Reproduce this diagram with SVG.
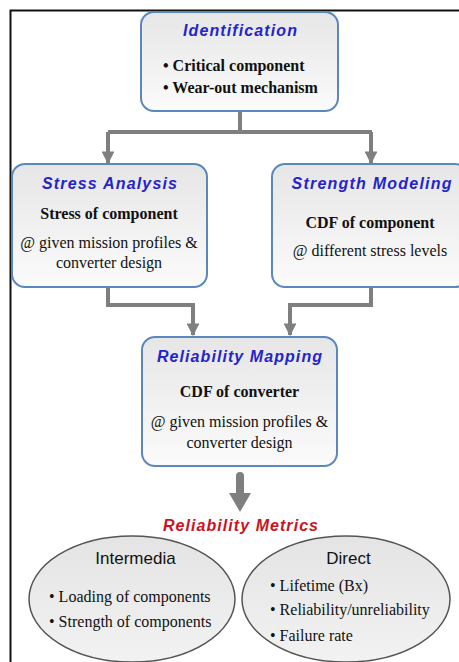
<svg xmlns="http://www.w3.org/2000/svg" width="459" height="662" viewBox="0 0 459 662">
<defs>
<linearGradient id="boxg" x1="0" y1="0" x2="0" y2="1">
<stop offset="0" stop-color="#e6e6e6"/>
<stop offset="1" stop-color="#fbfbfb"/>
</linearGradient>
<linearGradient id="ellg" x1="0" y1="0" x2="0" y2="1">
<stop offset="0" stop-color="#e4e4e4"/>
<stop offset="1" stop-color="#f2f2f2"/>
</linearGradient>
<marker id="ah" viewBox="0 0 10 10" refX="9" refY="5" markerWidth="3.2" markerHeight="3.2" markerUnits="strokeWidth" orient="auto">
<path d="M0,0 L10,5 L0,10 z" fill="#7f7f7f"/>
</marker>
</defs>
<style>
.box{fill:url(#boxg);stroke:#5b87bf;stroke-width:2}
.ell{fill:url(#ellg);stroke:#555;stroke-width:1.5}
.title{font-family:"Liberation Sans",Arial,sans-serif;font-weight:bold;font-style:italic;font-size:16px;fill:#2424cc;text-anchor:middle}
.red{font-family:"Liberation Sans",Arial,sans-serif;font-weight:bold;font-style:italic;font-size:16px;fill:#cc1122;text-anchor:middle}
.bb{font-family:"Liberation Serif","Times New Roman",serif;font-weight:bold;font-size:16px;fill:#111}
.bn{font-family:"Liberation Serif","Times New Roman",serif;font-size:16px;fill:#111}
.hd{font-family:"Liberation Sans",Arial,sans-serif;font-size:17px;fill:#111;text-anchor:middle}
.mid{text-anchor:middle}
.con{fill:none;stroke:#7f7f7f;stroke-width:4}
</style>
<rect x="0" y="0" width="459" height="662" fill="#ffffff"/>
<path d="M10.5,662 L10.5,10.5 L459,10.5" fill="none" stroke="#111" stroke-width="2"/>

<g id="connectors">
<path class="con" d="M240,111 L240,132 M108,132 L372,132"/>
<path class="con" d="M108,132 L108,163" marker-end="url(#ah)"/>
<path class="con" d="M371,132 L371,163" marker-end="url(#ah)"/>
<path class="con" d="M108,287 L108,305 L193,305 L193,335" marker-end="url(#ah)"/>
<path class="con" d="M371,287 L371,305 L290,305 L290,335" marker-end="url(#ah)"/>
<path d="M236,476 Q236,472 240,472 Q244,472 244,476 L244,493 L251,493 L240,512 L229,493 L236,493 Z" fill="#7f7f7f"/>
</g>

<g id="identification">
<rect class="box" x="141" y="12" width="197" height="99" rx="13"/>
<text class="title" x="240" y="36" textLength="114" lengthAdjust="spacing">Identification</text>
<text class="bb" x="163" y="71">• Critical component</text>
<text class="bb" x="163" y="93">• Wear-out mechanism</text>
</g>

<g id="stress-analysis">
<rect class="box" x="12" y="164" width="195" height="123" rx="13"/>
<text class="title" x="109.5" y="189" textLength="135" lengthAdjust="spacing">Stress Analysis</text>
<text class="bb mid" x="109" y="219">Stress of component</text>
<text class="bn mid" x="109" y="248">@ given mission profiles &amp;</text>
<text class="bn mid" x="109" y="268">converter design</text>
</g>

<g id="strength-modeling">
<rect class="box" x="272" y="164" width="196" height="123" rx="13"/>
<text class="title" x="371.5" y="189" textLength="160" lengthAdjust="spacing">Strength Modeling</text>
<text class="bb mid" x="370" y="228">CDF of component</text>
<text class="bn mid" x="370" y="256">@ different stress levels</text>
</g>

<g id="reliability-mapping">
<rect class="box" x="142" y="337" width="195" height="129" rx="13"/>
<text class="title" x="239.5" y="362" textLength="165" lengthAdjust="spacing">Reliability Mapping</text>
<text class="bb mid" x="239.5" y="397">CDF of converter</text>
<text class="bn mid" x="239.5" y="427">@ given mission profiles &amp;</text>
<text class="bn mid" x="239.5" y="448">converter design</text>
</g>

<g id="reliability-metrics">
<text class="red" x="240.5" y="531" textLength="155" lengthAdjust="spacing">Reliability Metrics</text>
</g>

<g id="intermedia">
<ellipse class="ell" cx="132" cy="599" rx="103" ry="63"/>
<text class="hd" x="135.5" y="564">Intermedia</text>
<text class="bn" x="49" y="602">• Loading of components</text>
<text class="bn" x="49" y="627">• Strength of components</text>
</g>

<g id="direct">
<ellipse class="ell" cx="346" cy="599" rx="104" ry="63"/>
<text class="hd" x="348.5" y="564">Direct</text>
<text class="bn" x="270" y="591">• Lifetime (Bx)</text>
<text class="bn" x="270" y="615">• Reliability/unreliability</text>
<text class="bn" x="270" y="641">• Failure rate</text>
</g>
</svg>
